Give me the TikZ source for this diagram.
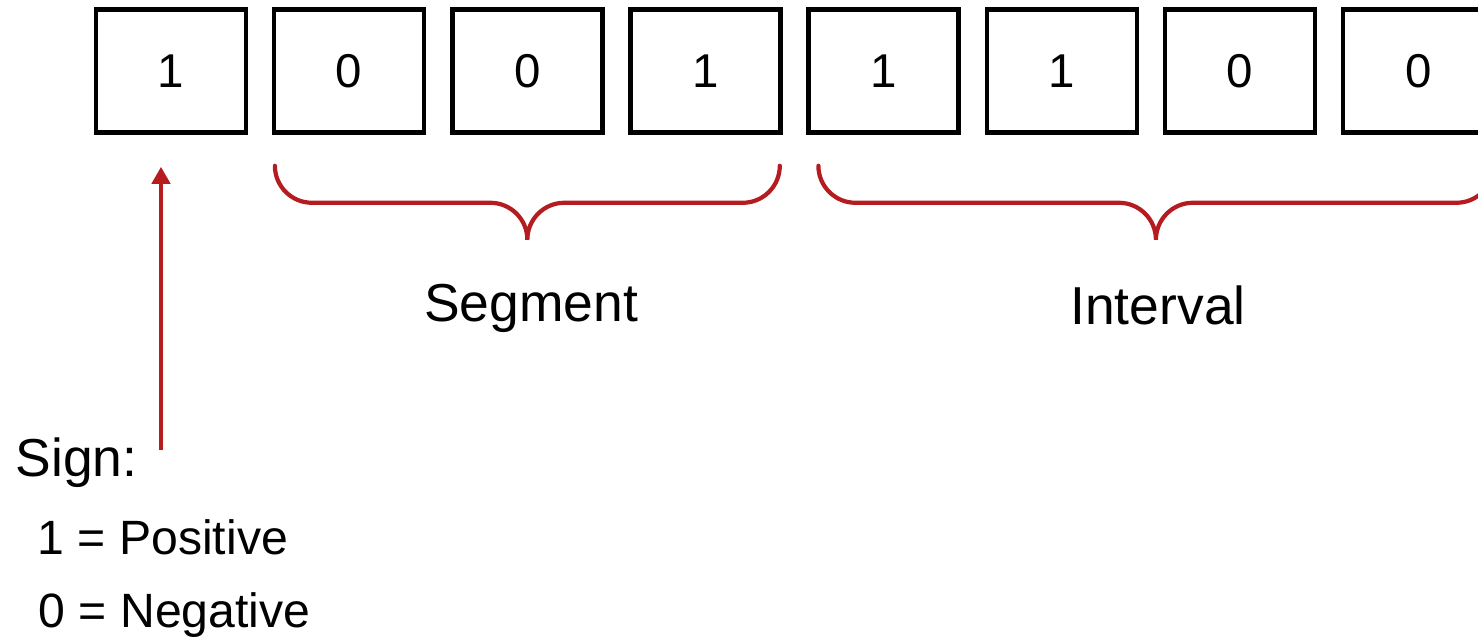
\documentclass[tikz,border=0pt]{standalone}
\usepackage{fontspec}
\setmainfont{Liberation Sans}
\usetikzlibrary{arrows.meta, positioning, calc}
\definecolor{bracered}{RGB}{180,28,32}
\tikzstyle{bit} = [rectangle, draw, line width=1.3pt, minimum width=1.5cm,
                   minimum height=1.23cm, inner sep=0pt, node distance=0.236cm,
                   font=\fontsize{13.5}{16}\selectfont]
\tikzstyle{brace} = [draw=bracered, line width=1.2pt, line cap=round]
\tikzstyle{pointer} = [draw=bracered, line width=1.2pt,
                       -{Triangle[length=0.17cm, width=0.18cm]}]
\tikzstyle{caption} = [inner sep=0pt, anchor=base, font=\fontsize{15.2}{18}\selectfont]
\tikzstyle{legend} = [inner sep=0pt, anchor=base west, font=\fontsize{13.7}{16}\selectfont]

\newcommand{\bracerad}{0.37cm}
% curly brace hanging below two points, tip half way
\newcommand{\curlybrace}[2]{%
  \draw [brace] let \p1=(#1), \p2=(#2), \n1={0.5*(\x1+\x2)} in
    (\p1) arc[start angle=180, end angle=270, radius=\bracerad]
    -- (\n1-\bracerad, \y1-\bracerad) arc[start angle=90, end angle=0, radius=\bracerad]
    arc[start angle=180, end angle=90, radius=\bracerad]
    -- (\x2-\bracerad, \y1-\bracerad) arc[start angle=270, end angle=360, radius=\bracerad];
}

\begin{document}
\begin{tikzpicture}
        \useasboundingbox (0,0) rectangle (14.78,6.41);
        \clip (0,0) rectangle (14.78,6.41);

        \node [bit] (b1) at (1.71,5.70) {1};
        \node [bit, right= of b1] (b2) {0};
        \node [bit, right= of b2] (b3) {0};
        \node [bit, right= of b3] (b4) {1};
        \node [bit, right= of b4] (b5) {1};
        \node [bit, right= of b5] (b6) {1};
        \node [bit, right= of b6] (b7) {0};
        \node [bit, right= of b7] (b8) {0};

        \curlybrace{[shift={(0.03,-0.31)}]b2.south west}{[shift={(-0.03,-0.31)}]b4.south east}
        \curlybrace{[shift={(0.12,-0.31)}]b5.south west}{[shift={(-0.02,-0.31)}]b8.south east}

        \node [caption] (segment) at (5.31,3.19) {Segment};
        \node [caption] (interval) at (11.58,3.16) {Interval};

        \node [caption, anchor=base west] (sign) at (0.15,1.64) {Sign:};
        \node [legend] (pos) at (0.37,0.86) {1 = Positive};
        \node [legend] (neg) at (0.38,0.13) {0 = Negative};

        \coordinate (signtail) at (1.61,1.91);
        \draw [pointer, shorten >=0.32cm] (signtail) -- (signtail |- b1.south);

    \end{tikzpicture}
\end{document}
